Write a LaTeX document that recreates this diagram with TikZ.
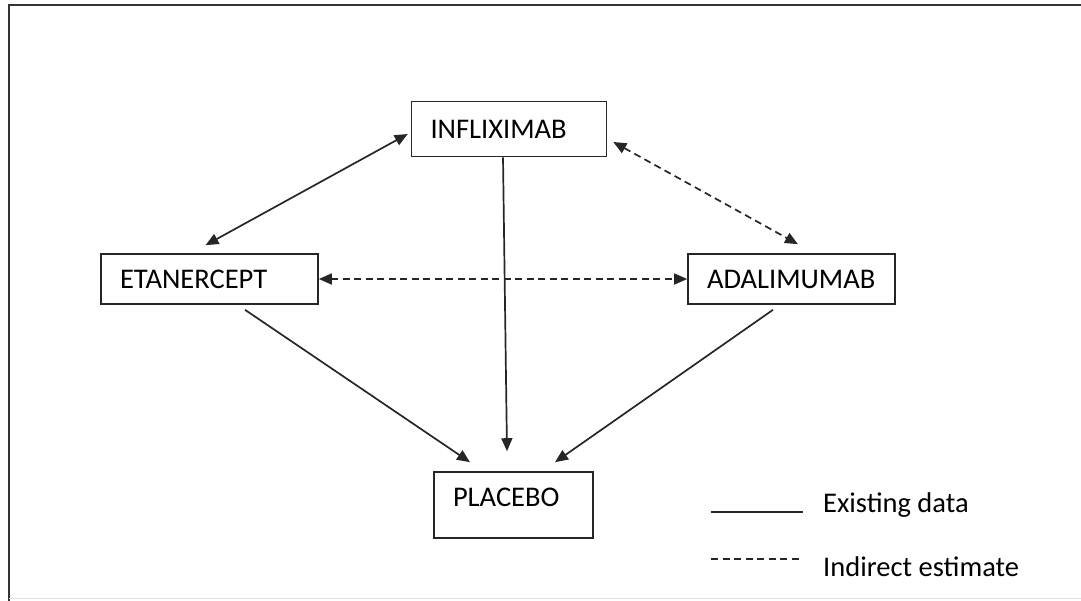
\documentclass[tikz,border=0pt]{standalone}
\usepackage{fontspec}
\setmainfont{Carlito}
\usetikzlibrary{arrows.meta}

\begin{document}
\begin{tikzpicture}[
 x=1pt,y=-1pt,
 every node/.style={font=\fontsize{28.5}{33}\selectfont},
 drugbox/.style={draw=black!85,line width=1.6pt,fill=white,align=left,
 inner xsep=19pt,inner ysep=0pt},
 tipboth/.style={{Triangle[length=13pt,width=11pt]}-{Triangle[length=13pt,width=11pt]}},
 tipone/.style={-{Triangle[length=13pt,width=11pt]}},
 existing/.style={draw=black!85,line width=1.7pt},
 indirect/.style={existing,dash pattern=on 7pt off 4.5pt}]
\useasboundingbox (0,0) rectangle (1081,600);
% frame
\draw[black!80,line width=2.4pt] (9,640) -- (9,5) -- (1100,5);
\draw[black!12,line width=1pt] (9,598.5) -- (1100,598.5);
% treatments
\node[drugbox,text width=157pt,minimum height=55pt] (infl) at (509,129) {INFLIXIMAB};
\node[drugbox,text width=179pt,minimum height=50pt] (etan) at (209.5,279) {ETANERCEPT};
\node[drugbox,text width=169pt,minimum height=50pt] (adal) at (791.5,279) {ADALIMUMAB};
\node[drugbox,text width=121pt,minimum height=66pt,text depth=16pt] (plac) at (513.5,505) {PLACEBO};
% comparisons
\draw[existing,tipboth] ([xshift=-4pt,yshift=8pt]etan.north) -- ([xshift=-3pt,yshift=-5pt]infl.west);
\draw[indirect,tipboth] ([xshift=6pt,yshift=-13pt]infl.east) -- ([xshift=6.5pt,yshift=9pt]adal.north);
\draw[indirect,tipboth] (etan.east) -- (adal.west);
\draw[existing,tipone] ([xshift=-6pt]infl.south) -- ([xshift=-6.5pt,yshift=20pt]plac.north);
\draw[existing,tipone] ([xshift=35.5pt,yshift=-5pt]etan.south) -- ([xshift=-43.5pt,yshift=9pt]plac.north);
\draw[existing,tipone] ([xshift=-18.5pt,yshift=-5pt]adal.south) -- ([xshift=41.5pt,yshift=9pt]plac.north);
% legend
\coordinate (solidA) at (711,512);
\coordinate (solidB) at (803,512);
\coordinate (dashA) at (711,559);
\coordinate (dashB) at (800,559);
\draw[existing] (solidA) -- (solidB);
\draw[indirect] (dashA) -- (dashB);
\node[anchor=west,inner sep=0pt] (legexist) at (823,505) {Existing data};
\node[anchor=west,inner sep=0pt] (legindir) at (823,567) {Indirect estimate};
\end{tikzpicture}
\end{document}
